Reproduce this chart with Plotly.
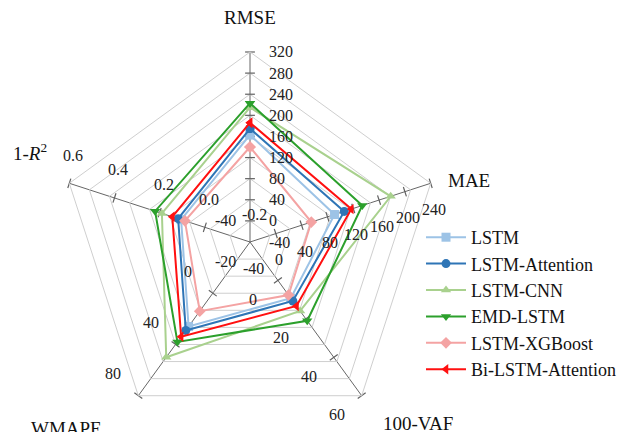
import numpy as np
import plotly.graph_objects as go

# ---------------- data ----------------
axes_names = ["RMSE", "MAE", "100-VAF", "WMAPE", "1-R2"]
axis_lo = [-40, -40, -20, -40, -0.2]
axis_hi = [320, 240, 60, 80, 0.6]
axis_step = [40, 40, 20, 40, 0.2]

series_names = ["LSTM", "LSTM-Attention", "LSTM-CNN", "EMD-LSTM", "LSTM-XGBoost", "Bi-LSTM-Attention"]
rmse = [163, 175, 215, 223, 140, 186]
mae = [91, 106, 178, 134, 55, 117]
vaf = [9.2, 10.7, 15.9, 21.0, 7.6, 13.3]
wmape = [26, 29, 50, 38, 14, 34]
r2 = [0.105, 0.118, 0.19, 0.22, 0.088, 0.144]

colors = ["#9DC3E6", "#2E75B6", "#A9D18E", "#2CA02C", "#F4A3A3", "#FF1010"]
symbols = ["square", "circle", "triangle-up", "triangle-down", "diamond", "triangle-left"]

# ---------------- layout geometry ----------------
W, H = 635, 432
cx, cy, R = 250, 242, 190
NR = 9  # number of grid rings
FONT = "Liberation Serif"

def norm(v, k):
    return (v - axis_lo[k]) / (axis_hi[k] - axis_lo[k]) * NR

fig = go.Figure()

# tick marks on each axis
angles = [0, 72, 144, 216, 288]
for k, name in enumerate(axes_names):
    n = int(round((axis_hi[k] - axis_lo[k]) / axis_step[k]))
    tv = [axis_lo[k] + i * axis_step[k] for i in range(1, n + 1)]
    fig.add_trace(go.Scatterpolar(
        r=[norm(v, k) for v in tv], theta=[name] * len(tv), mode="markers",
        marker=dict(symbol="line-ew", size=7, angle=angles[k],
                    line=dict(width=1.2, color="#606060")),
        showlegend=False, hoverinfo="skip"))

# data series
vals = [rmse, mae, vaf, wmape, r2]
for i, s in enumerate(series_names):
    rr = [norm(vals[k][i], k) for k in range(5)]
    fig.add_trace(go.Scatterpolar(
        r=rr + [rr[0]], theta=axes_names + [axes_names[0]],
        mode="lines+markers", name=s,
        line=dict(color=colors[i], width=2),
        marker=dict(symbol=symbols[i], size=9, color=colors[i]),
        hoverinfo="skip"))

# tick labels (annotations placed at tick positions)
label_off = [(17, 0), (3, 26), (-25, 19), (-25, -22), (4, -28)]
annotations = []
for k in range(5):
    n = int(round((axis_hi[k] - axis_lo[k]) / axis_step[k]))
    th = np.deg2rad(angles[k])
    for i in range(n + 1):
        v = axis_lo[k] + i * axis_step[k]
        frac = i / n
        px = cx + R * frac * np.sin(th)
        py = cy - R * frac * np.cos(th)
        if k == 4:
            txt = f"{v:.1f}"
            if txt == "-0.0":
                txt = "0.0"
        else:
            txt = f"{int(round(v))}"
        dx, dy = label_off[k]
        annotations.append(dict(
            x=px / W, y=1 - py / H, xref="paper", yref="paper",
            text=txt, showarrow=False,
            xanchor="left" if k == 0 else "center", yanchor="middle",
            xshift=dx, yshift=-dy,
            font=dict(family=FONT, size=16, color="#222")))

# axis titles
titles = [("RMSE", 250, 18), ("MAE", 469, 181), ("100-VAF", 418, 423),
          ("WMAPE", 66, 428), ("1-<i>R</i><sup>2</sup>", 30, 152)]
for t, x, y in titles:
    annotations.append(dict(x=x / W, y=1 - y / H, xref="paper", yref="paper",
                            text=t, showarrow=False, xanchor="center", yanchor="middle",
                            font=dict(family=FONT, size=19, color="#111")))

fig.update_layout(
    width=W, height=H, margin=dict(l=0, r=0, t=0, b=0),
    paper_bgcolor="white",
    font=dict(family=FONT),
    polar=dict(
        domain=dict(x=[(cx - R) / W, (cx + R) / W], y=[(H - cy - R) / H, (H - cy + R) / H]),
        gridshape="linear", bgcolor="white",
        radialaxis=dict(range=[0, NR], tickvals=list(range(1, NR + 1)), showticklabels=False,
                        ticks="", showline=False, gridcolor="#cfcfcf", gridwidth=1, angle=90),
        angularaxis=dict(rotation=90, direction="clockwise", categoryarray=axes_names,
                         showticklabels=False, ticks="", gridcolor="#666666", gridwidth=1,
                         showline=True, linecolor="#cfcfcf", linewidth=1),
    ),
    legend=dict(x=0.663, y=1 - 219 / H, xanchor="left", yanchor="top",
                font=dict(family=FONT, size=18, color="#111"), bgcolor="rgba(0,0,0,0)",
                itemwidth=40, tracegroupgap=0),
    annotations=annotations,
)

fig.write_html("out.html")
